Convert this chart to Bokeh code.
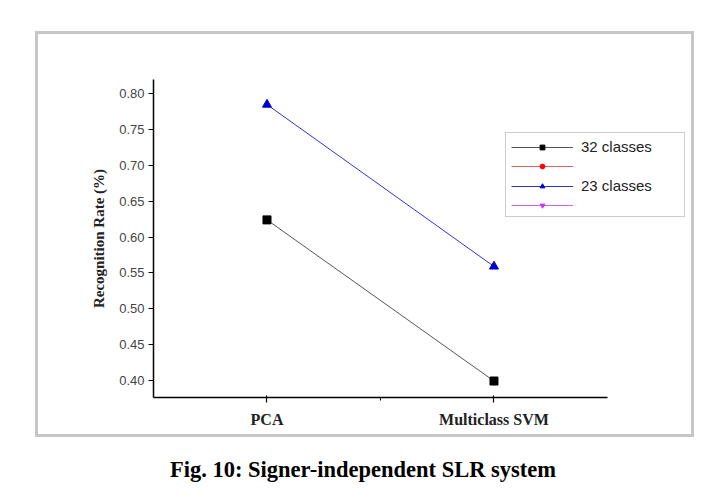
import math
from bokeh.plotting import figure
from bokeh.layouts import column
from bokeh.models import (Range1d, FixedTicker, Legend, LegendItem, Div,
                          ColumnDataSource, NumeralTickFormatter)
from bokeh.embed import file_html
from bokeh.resources import INLINE

methods = ["PCA", "Multiclass SVM"]
rate_32 = [0.624, 0.399]
rate_23 = [0.785, 0.559]
rate_none = [math.nan, math.nan]
legend_labels = ["32 classes", " ", "23 classes", " "]
y_ticks = [0.40, 0.45, 0.50, 0.55, 0.60, 0.65, 0.70, 0.75, 0.80]
caption = "Fig. 10: Signer-independent SLR system"
y_title = "Recognition Rate (%)"

x_pos = [i + 1 for i in range(len(methods))]

p = figure(width=653, height=400, x_range=Range1d(0.5, 2.857),
           y_range=Range1d(0.376, 0.82), output_backend="svg",
           toolbar_location=None, min_border_left=115, min_border_right=3,
           min_border_top=45, min_border_bottom=37)
p.margin = (34, 0, 0, 38)
p.styles = {"outline": "3px solid #c6c6c6"}
p.outline_line_color = None
p.xgrid.grid_line_color = None
p.ygrid.grid_line_color = None

src32 = ColumnDataSource(dict(x=x_pos, y=rate_32))
src23 = ColumnDataSource(dict(x=x_pos, y=rate_23))
srcn = ColumnDataSource(dict(x=x_pos, y=rate_none))

l32 = p.line("x", "y", source=src32, line_color="#555555", line_width=1)
m32 = p.scatter("x", "y", source=src32, marker="square", size=8,
                fill_color="black", line_color="black")
l23 = p.line("x", "y", source=src23, line_color="#3333cc", line_width=1)
m23 = p.scatter("x", "y", source=src23, marker="triangle", size=9,
                fill_color="#0000cc", line_color="#0000cc")
lr = p.line("x", "y", source=srcn, line_color="#e06060", line_width=1)
mr = p.scatter("x", "y", source=srcn, marker="circle", size=8,
               fill_color="red", line_color="red")
lm = p.line("x", "y", source=srcn, line_color="#cc66ee", line_width=1)
mm = p.scatter("x", "y", source=srcn, marker="inverted_triangle", size=9,
               fill_color="#cc33ff", line_color="#cc33ff")

items = [LegendItem(label=legend_labels[0], renderers=[l32, m32]),
         LegendItem(label=legend_labels[1], renderers=[lr, mr]),
         LegendItem(label=legend_labels[2], renderers=[l23, m23]),
         LegendItem(label=legend_labels[3], renderers=[lm, mm])]
leg = Legend(items=items, location=(352, 180), padding=5, spacing=5,
             glyph_width=62, glyph_height=12, label_height=12, label_width=98,
             label_standoff=8, label_text_font="Liberation Sans",
             label_text_font_size="15px", label_text_color="#222222",
             border_line_color="#999999", border_line_width=1,
             background_fill_alpha=1)
p.add_layout(leg, "center")

p.yaxis.ticker = FixedTicker(ticks=y_ticks)
p.yaxis.formatter = NumeralTickFormatter(format="0.00")
p.yaxis.minor_tick_line_color = None
p.yaxis.major_tick_out = 5
p.yaxis.major_tick_in = 0
p.yaxis.major_label_standoff = 4
p.yaxis.major_label_text_font = "Liberation Sans"
p.yaxis.major_label_text_font_size = "13px"
p.yaxis.major_label_text_color = "#444444"
p.yaxis.axis_label = y_title
p.yaxis.axis_label_text_font = "Liberation Serif"
p.yaxis.axis_label_text_font_style = "bold"
p.yaxis.axis_label_text_font_size = "15px"
p.yaxis.axis_label_text_color = "#222222"
p.yaxis.axis_label_standoff = 9

p.xaxis.bounds = (0.5, 2.5)
p.xaxis.ticker = FixedTicker(ticks=x_pos, minor_ticks=[1.5])
p.xaxis.major_label_overrides = {x: m for x, m in zip(x_pos, methods)}
p.xaxis.major_tick_out = 5
p.xaxis.major_tick_in = 2
p.xaxis.minor_tick_out = 3
p.xaxis.minor_tick_in = 0
p.xaxis.minor_tick_line_color = "black"
p.xaxis.major_label_standoff = 8
p.xaxis.major_label_text_font = "Liberation Serif"
p.xaxis.major_label_text_font_style = "bold"
p.xaxis.major_label_text_font_size = "16px"
p.xaxis.major_label_text_color = "#222222"

for ax in (p.xaxis, p.yaxis):
    ax.axis_line_width = 1.5
    ax.axis_line_color = "black"
    ax.major_tick_line_color = "black"
    ax.major_tick_line_width = 1.2

cap = Div(text=caption, width=726, margin=(20, 0, 0, 0),
          styles={"text-align": "center", "font-family": "Liberation Serif",
                  "font-weight": "bold", "font-size": "22.5px", "color": "black"})

layout = column(p, cap)
open("out.html", "w").write(file_html(layout, INLINE))
